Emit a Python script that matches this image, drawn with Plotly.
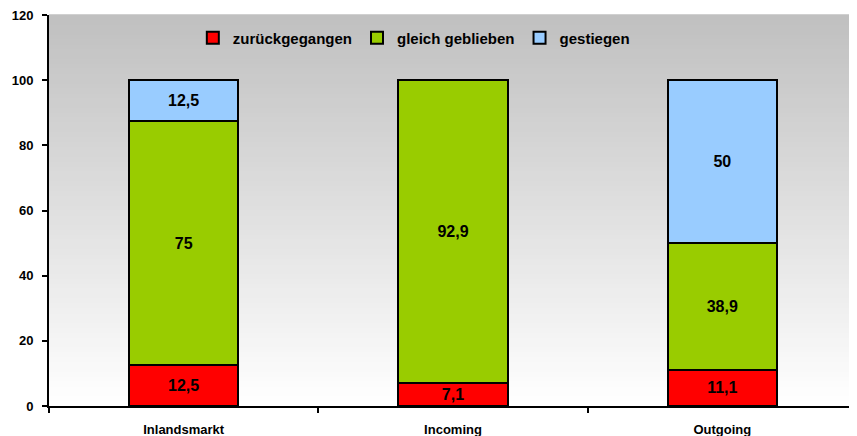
import plotly.graph_objects as go

categories = ["Inlandsmarkt", "Incoming", "Outgoing"]
series_names = ["zurückgegangen", "gleich geblieben", "gestiegen"]
zurueck = [12.5, 7.1, 11.1]
gleich = [75, 92.9, 38.9]
gestiegen = [12.5, 0, 50]
colors = ["#FF0000", "#99CC00", "#99CCFF"]
y_ticks = [0, 20, 40, 60, 80, 100, 120]


def fmt(v):
    if v == 0:
        return ""
    return ("%g" % v).replace(".", ",")


fig = go.Figure()
for name, vals, col in zip(series_names, [zurueck, gleich, gestiegen], colors):
    fig.add_trace(go.Bar(
        x=categories, y=vals, name=name,
        marker=dict(color=col, line=dict(color="black", width=2)),
        text=[fmt(v) for v in vals],
        textposition="inside", insidetextanchor="middle",
        textfont=dict(family="Liberation Sans", size=16, color="black", weight="bold"),
        width=0.405,
    ))

# vertical gradient background (gray at top to white at bottom)
n = 80
shapes = []
for i in range(n):
    t = i / (n - 1)
    g = int(round(192 + (255 - 192) * (1 - t)))
    shapes.append(dict(type="rect", xref="paper", yref="paper",
                       x0=0, x1=1, y0=i / n, y1=(i + 1) / n + 0.002,
                       fillcolor="rgb(%d,%d,%d)" % (g, g, g), line=dict(width=0),
                       layer="below"))

fig.update_layout(
    barmode="stack",
    width=849, height=428,
    margin=dict(l=41, r=0, t=7, b=30),
    paper_bgcolor="white",
    plot_bgcolor="white",
    shapes=shapes,
    showlegend=True,
    legend=dict(orientation="h", x=0.178, y=0.941, xanchor="left", yanchor="middle",
                bgcolor="rgba(0,0,0,0)", traceorder="normal",
                font=dict(family="Liberation Sans", size=15, color="black", weight="bold"),
                itemwidth=30),
    uniformtext=dict(minsize=16, mode="show"),
    font=dict(family="Liberation Sans", color="black"),
)
fig.update_yaxes(range=[0, 120], tickvals=y_ticks, ticktext=[str(v) for v in y_ticks],
                 showgrid=False, showline=True, linecolor="black", linewidth=2,
                 ticks="outside", ticklen=5, tickwidth=2, tickcolor="black",
                 ticklabelstandoff=6, ticklabeloverflow="allow", automargin=False,
                 tickfont=dict(family="Liberation Sans", size=13, color="black", weight="bold"),
                 zeroline=False)
fig.update_xaxes(showgrid=False, showline=True, linecolor="black", linewidth=2,
                 ticks="outside", tickson="boundaries", ticklen=5, tickwidth=2, tickcolor="black",
                 ticklabelstandoff=10, automargin=False,
                 tickfont=dict(family="Liberation Sans", size=13, color="black", weight="bold"),
                 range=[-0.5, 2.5])

fig.write_html("out.html")
